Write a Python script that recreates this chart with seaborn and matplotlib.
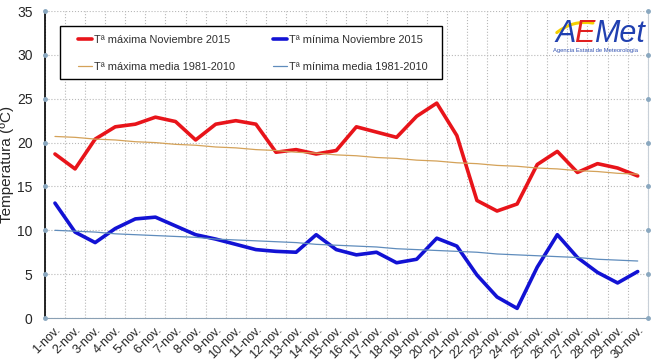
import pandas as pd
import matplotlib
matplotlib.use('Agg')
import matplotlib.pyplot as plt
import matplotlib.patches as mpatches
import seaborn as sns

# Daily temperatures, November 2015
days = [f'{d}-nov.' for d in range(1, 31)]
tmax_2015 = [18.7, 17.0, 20.4, 21.8, 22.1, 22.9, 22.4, 20.3, 22.1, 22.5,
             22.1, 18.9, 19.2, 18.7, 19.1, 21.8, 21.2, 20.6, 23.0, 24.5,
             20.8, 13.4, 12.2, 13.0, 17.5, 19.0, 16.6, 17.6, 17.1, 16.2]
tmin_2015 = [13.1, 9.8, 8.6, 10.2, 11.3, 11.5, 10.5, 9.5, 9.0, 8.4,
             7.8, 7.6, 7.5, 9.5, 7.8, 7.2, 7.5, 6.3, 6.7, 9.1,
             8.2, 4.9, 2.4, 1.1, 5.8, 9.5, 6.9, 5.2, 4.0, 5.3]
tmax_normal = [20.7, 20.6, 20.4, 20.3, 20.1, 20.0, 19.8, 19.7, 19.5, 19.4,
               19.2, 19.1, 18.9, 18.8, 18.6, 18.5, 18.3, 18.2, 18.0, 17.9,
               17.7, 17.6, 17.4, 17.3, 17.1, 17.0, 16.8, 16.7, 16.5, 16.4]
tmin_normal = [10.0, 9.9, 9.8, 9.6, 9.5, 9.4, 9.3, 9.2, 9.0, 8.9,
               8.8, 8.7, 8.6, 8.4, 8.3, 8.2, 8.1, 7.9, 7.8, 7.7,
               7.6, 7.5, 7.3, 7.2, 7.1, 7.0, 6.9, 6.7, 6.6, 6.5]

df = pd.DataFrame({'dia': days, 'tmax': tmax_2015, 'tmin': tmin_2015,
                   'tmax_n': tmax_normal, 'tmin_n': tmin_normal})

sns.set_style('white')
plt.rcParams['font.family'] = ['Liberation Sans', 'DejaVu Sans']

fig = plt.figure(figsize=(6.51, 3.62), dpi=100)
ax = fig.add_axes([0.069, 0.1215, 0.926, 0.848])

sns.lineplot(data=df, x='dia', y='tmax', ax=ax, color='#e8141a', lw=2.6,
             label='Tª máxima Noviembre 2015', sort=False)
sns.lineplot(data=df, x='dia', y='tmax_n', ax=ax, color='#d4a259', lw=0.9,
             label='Tª máxima media 1981-2010', sort=False)
sns.lineplot(data=df, x='dia', y='tmin', ax=ax, color='#1212d4', lw=2.6,
             label='Tª mínima Noviembre 2015', sort=False)
sns.lineplot(data=df, x='dia', y='tmin_n', ax=ax, color='#5f8cbc', lw=0.9,
             label='Tª mínima media 1981-2010', sort=False)

ax.set_xlim(-0.5, len(days) - 0.5)
ax.set_ylim(0, 35)
ax.set_yticks(range(0, 36, 5))
ax.set_xticks(range(len(days)))
ax.set_xticklabels(days, rotation=45, ha='right', rotation_mode='anchor', fontsize=9)
ax.set_xticks([i - 0.5 for i in range(len(days) + 1)], minor=True)
ax.tick_params(axis='x', which='major', length=0, pad=4)
ax.tick_params(axis='x', which='minor', length=4, color='black', width=0.8)
ax.tick_params(axis='y', labelsize=10, length=0, pad=9)
ax.grid(True, axis='y', which='major', color='#b8b8b8', ls=':', lw=0.8)
ax.grid(True, axis='x', which='minor', color='#b8b8b8', ls=':', lw=0.8)

# little circle markers at the y ticks, like the original
for y in range(0, 36, 5):
    ax.plot([-0.5], [y], marker='o', ms=2.5, color='#8aa8c0', clip_on=False, zorder=5)
    ax.plot([len(days) - 0.5], [y], marker='o', ms=2.5, color='#8aa8c0', clip_on=False, zorder=5)

ax.spines['top'].set_visible(False)
ax.spines['left'].set_color('black')
ax.spines['left'].set_linewidth(1.2)
ax.spines['bottom'].set_color('#8aa0b4')
ax.spines['right'].set_color('#c8d0d8')

ax.set_xlabel('')
ax.set_ylabel('Temperatura (ºC)', fontsize=11)
ax.yaxis.set_label_coords(-0.051, 0.5)

# legend box drawn by hand so the entries can sit where they are in the original
box = mpatches.Rectangle((0.025, 0.778), 0.633, 0.173, transform=ax.transAxes,
                         facecolor='white', edgecolor='black', lw=1.0, zorder=4.5)
ax.add_patch(box)
leg = ax.legend(loc='center left', bbox_to_anchor=(0.055, 0.862), ncol=2,
                fontsize=7.9, frameon=False, handlelength=1.3, handletextpad=0.15,
                borderaxespad=0, borderpad=0, labelspacing=1.5, columnspacing=3.45)
leg.set_zorder(5)
for t in leg.get_texts():
    t.set_color('#303030')

# AEMet logo (text version)
swoosh = mpatches.FancyArrowPatch((0.852, 0.905), (0.915, 0.935), transform=fig.transFigure,
                                  connectionstyle='arc3,rad=-0.25', arrowstyle='-',
                                  color='#f5d000', lw=2.2)
fig.add_artist(swoosh)
fig.text(0.853, 0.885, 'A', color='#2040b0', fontsize=22, style='italic')
fig.text(0.882, 0.885, 'E', color='#e02020', fontsize=22, style='italic')
fig.text(0.913, 0.885, 'Met', color='#2040b0', fontsize=22, style='italic')
fig.text(0.849, 0.855, 'Agencia Estatal de Meteorología', color='#3050b0', fontsize=4.2)

plt.savefig('out.png', dpi=100)
